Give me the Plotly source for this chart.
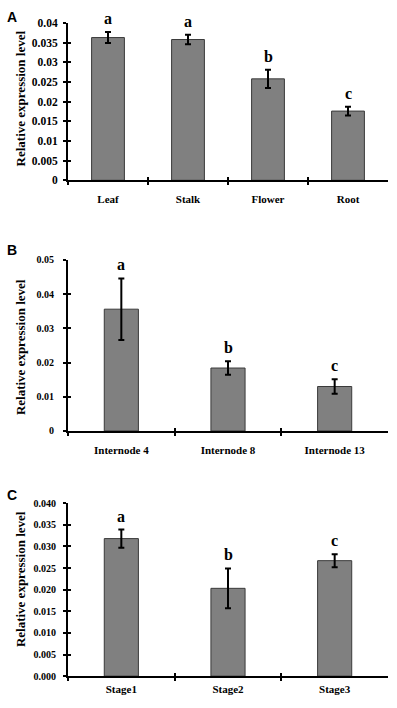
import plotly.graph_objects as go

# ---- data ----
cats_a = ["Leaf", "Stalk", "Flower", "Root"]
vals_a = [0.0363, 0.0358, 0.0258, 0.0176]
errs_a = [0.0014, 0.0012, 0.0023, 0.0011]
sig_a = ["a", "a", "b", "c"]

cats_b = ["Internode 4", "Internode 8", "Internode 13"]
vals_b = [0.0356, 0.0184, 0.0130]
errs_b = [0.0090, 0.0020, 0.0021]
sig_b = ["a", "b", "c"]

cats_c = ["Stage1", "Stage2", "Stage3"]
vals_c = [0.0318, 0.0203, 0.0267]
errs_c = [0.0021, 0.0046, 0.0015]
sig_c = ["a", "b", "c"]

yticks_a = [0, 0.005, 0.01, 0.015, 0.02, 0.025, 0.03, 0.035, 0.04]
yticktext_a = ["0", "0.005", "0.01", "0.015", "0.02", "0.025", "0.03", "0.035", "0.04"]
yticks_b = [0, 0.01, 0.02, 0.03, 0.04, 0.05]
yticktext_b = ["0", "0.01", "0.02", "0.03", "0.04", "0.05"]
yticks_c = [0, 0.005, 0.01, 0.015, 0.02, 0.025, 0.03, 0.035, 0.04]
yticktext_c = ["0.000", "0.005", "0.010", "0.015", "0.020", "0.025", "0.030", "0.035", "0.040"]

ytitle = "Relative expression level"
panel_labels = ["A", "B", "C"]

# ---- layout constants ----
W, H = 397, 708
SERIF = "Liberation Serif"
SANS = "Liberation Sans"

def py(px):
    return 1 - px / H

panels = [
    dict(cats=cats_a, vals=vals_a, errs=errs_a, sig=sig_a, tv=yticks_a, tt=yticktext_a,
         ymax=0.04, dom=[py(177.3), py(17.3)], width=0.41, tfs=11.5, stand=3,
         tcenter=94, label_y=11, xstand=8),
    dict(cats=cats_b, vals=vals_b, errs=errs_b, sig=sig_b, tv=yticks_b, tt=yticktext_b,
         ymax=0.05, dom=[py(432.3), py(258.3)], width=0.32, tfs=10, stand=7,
         tcenter=347, label_y=248, xstand=8),
    dict(cats=cats_c, vals=vals_c, errs=errs_c, sig=sig_c, tv=yticks_c, tt=yticktext_c,
         ymax=0.04, dom=[py(681.7), py(505.7)], width=0.32, tfs=10, stand=5,
         tcenter=583, label_y=497, xstand=2),
]

xdom = [68 / W, 388 / W]

fig = go.Figure()
layout = dict(
    width=W, height=H, margin=dict(l=0, r=0, t=0, b=0),
    paper_bgcolor="white", plot_bgcolor="white", showlegend=False,
    annotations=[],
)

for i, p in enumerate(panels):
    k = i + 1
    ko = i + 4
    xs = "" if k == 1 else str(k)
    fig.add_trace(go.Bar(
        x=p["cats"], y=p["vals"], width=p["width"],
        marker=dict(color="#808080", line=dict(color="#3a3a3a", width=1)),
        error_y=dict(type="data", array=p["errs"], visible=True,
                     color="black", thickness=2, width=3),
        xaxis="x" + xs, yaxis="y" + xs, hoverinfo="skip",
    ))
    n = len(p["cats"])
    # main axes
    layout["xaxis" + xs] = dict(
        domain=xdom, anchor="y" + xs, type="category", range=[-0.5, n - 0.5],
        tickson="boundaries", ticks="outside", ticklen=3, tickwidth=1.5,
        tickcolor="black", showline=True, linewidth=2, linecolor="black",
        showgrid=False, zeroline=False, ticklabelstandoff=p["xstand"],
        tickfont=dict(family=SERIF, size=11, color="black", weight="bold"),
    )
    layout["yaxis" + xs] = dict(
        domain=p["dom"], anchor="x" + xs, range=[0, p["ymax"]],
        tickvals=p["tv"], ticktext=p["tt"], ticks="outside", ticklen=3,
        tickwidth=1.5, tickcolor="black", showline=True, linewidth=2,
        linecolor="black", showgrid=False, zeroline=False,
        ticklabelstandoff=p["stand"],
        tickfont=dict(family=SERIF, size=p["tfs"], color="black", weight="bold"),
    )
    # overlay axes to give crossing ticks
    layout["xaxis" + str(ko)] = dict(
        overlaying="x" + xs, anchor="y" + xs, range=[0, n],
        tickvals=list(range(n + 1)), ticks="inside", ticklen=3, tickwidth=1.5,
        tickcolor="black", showticklabels=False, showline=False,
        showgrid=False, zeroline=False,
    )
    layout["yaxis" + str(ko)] = dict(
        overlaying="y" + xs, anchor="x" + xs, range=[0, p["ymax"]],
        tickvals=p["tv"], ticks="inside", ticklen=3, tickwidth=1.5,
        tickcolor="black", showticklabels=False, showline=False,
        showgrid=False, zeroline=False,
    )
    fig.add_trace(go.Scatter(x=[None], y=[None], xaxis="x" + str(ko),
                             yaxis="y" + str(ko), hoverinfo="skip"))
    # significance letters
    for c, v, e, s in zip(p["cats"], p["vals"], p["errs"], p["sig"]):
        layout["annotations"].append(dict(
            x=c, y=v + e, xref="x" + xs, yref="y" + xs, text=s, showarrow=False,
            yanchor="bottom", yshift=3,
            font=dict(family=SERIF, size=16, color="black", weight="bold"),
        ))
    # y title
    layout["annotations"].append(dict(
        x=20 / W, y=py(p["tcenter"]), xref="paper", yref="paper", text=ytitle,
        textangle=-90, showarrow=False, xanchor="center", yanchor="middle",
        font=dict(family=SERIF, size=13, color="black", weight="bold"),
    ))
    # panel label
    layout["annotations"].append(dict(
        x=5 / W, y=py(p["label_y"]), xref="paper", yref="paper",
        text=panel_labels[i], showarrow=False, xanchor="left", yanchor="middle",
        font=dict(family=SANS, size=14, color="black", weight="bold"),
    ))

fig.update_layout(**layout)
fig.write_html(
    "out.html",
    config={"displayModeBar": False},
    post_script=(
        "document.body.style.margin='0';"
        "document.body.style.overflow='hidden';"
        "document.documentElement.style.overflow='hidden';"
    ),
)
